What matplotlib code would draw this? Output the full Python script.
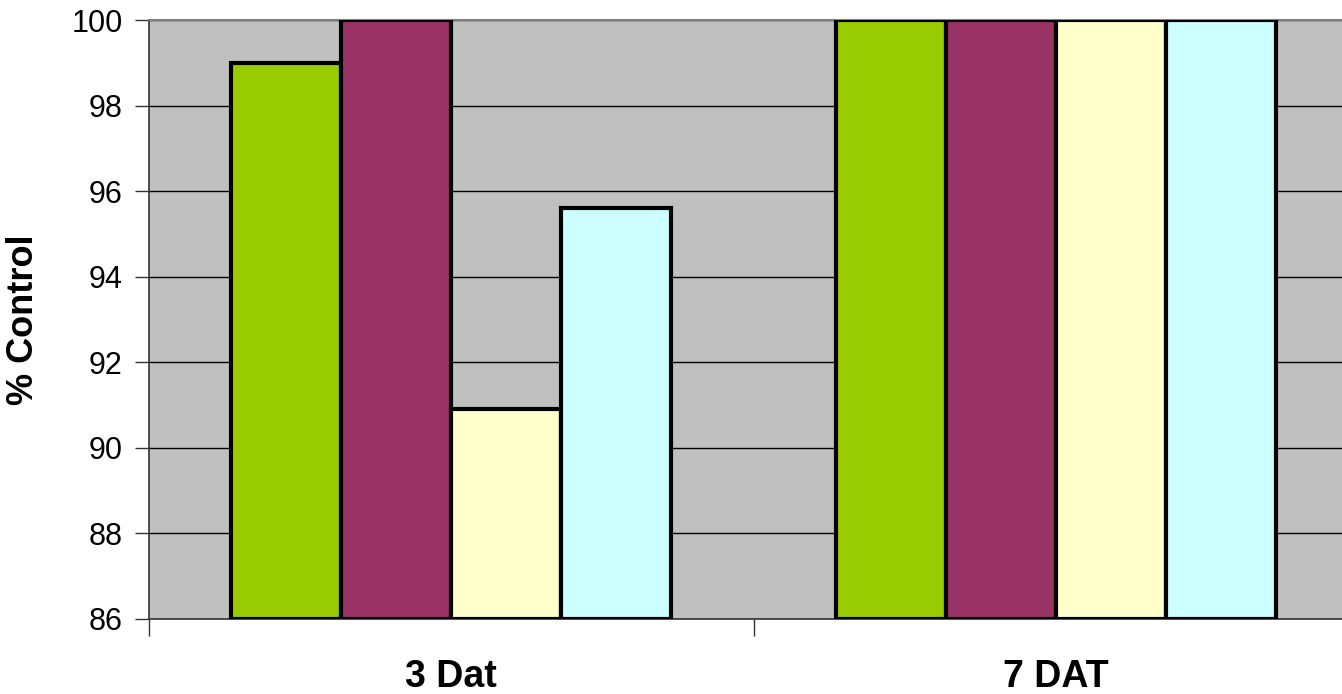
import numpy as np
import matplotlib.pyplot as plt
from matplotlib.ticker import FixedLocator

plt.rcParams['font.family'] = ['Liberation Sans', 'DejaVu Sans']

# Данные
categories = ['3 Dat', '7 DAT']
series_1 = [99.0, 100.0]
series_2 = [100.0, 100.0]
series_3 = [90.9, 100.0]
series_4 = [95.6, 100.0]
colors = ['#99CC00', '#993366', '#FFFFCC', '#CCFFFF']

fig = plt.figure(figsize=(13.42, 6.94), dpi=100)
ax = fig.add_axes([149 / 1342, 75 / 694, 1209 / 1342, 599 / 694])
ax.set_facecolor('#C0C0C0')

x = np.arange(len(categories)) + 0.5
width = 0.182
for i, (vals, c) in enumerate(zip([series_1, series_2, series_3, series_4], colors)):
    ax.bar(x + (i - 1.5) * width, np.array(vals) - 86, width, bottom=86,
           color=c, edgecolor='black', linewidth=3, zorder=3)

ax.set_xlim(0, 2)
ax.set_ylim(86, 100)
ax.set_yticks(np.arange(86, 101, 2))
ax.yaxis.grid(True, color='black', linewidth=1, zorder=1)
ax.set_axisbelow(True)

ax.set_xticks(x)
ax.set_xticklabels(categories, fontsize=27, fontweight='bold')
ax.xaxis.set_minor_locator(FixedLocator([0, 1, 2]))
ax.tick_params(axis='x', which='major', length=0, pad=29)
ax.tick_params(axis='x', which='minor', length=12, width=1, color='#333333')
ax.tick_params(axis='y', length=10, width=1, color='#333333', labelsize=22, pad=9)

ax.set_ylabel('% Control', fontsize=26, fontweight='bold', labelpad=22)

for side in ['left', 'bottom']:
    ax.spines[side].set_color('#333333')
    ax.spines[side].set_linewidth(1.2)
ax.spines['top'].set_color('#808080')
ax.spines['top'].set_linewidth(1.5)
ax.spines['right'].set_visible(False)

fig.savefig('out.png', dpi=100)
